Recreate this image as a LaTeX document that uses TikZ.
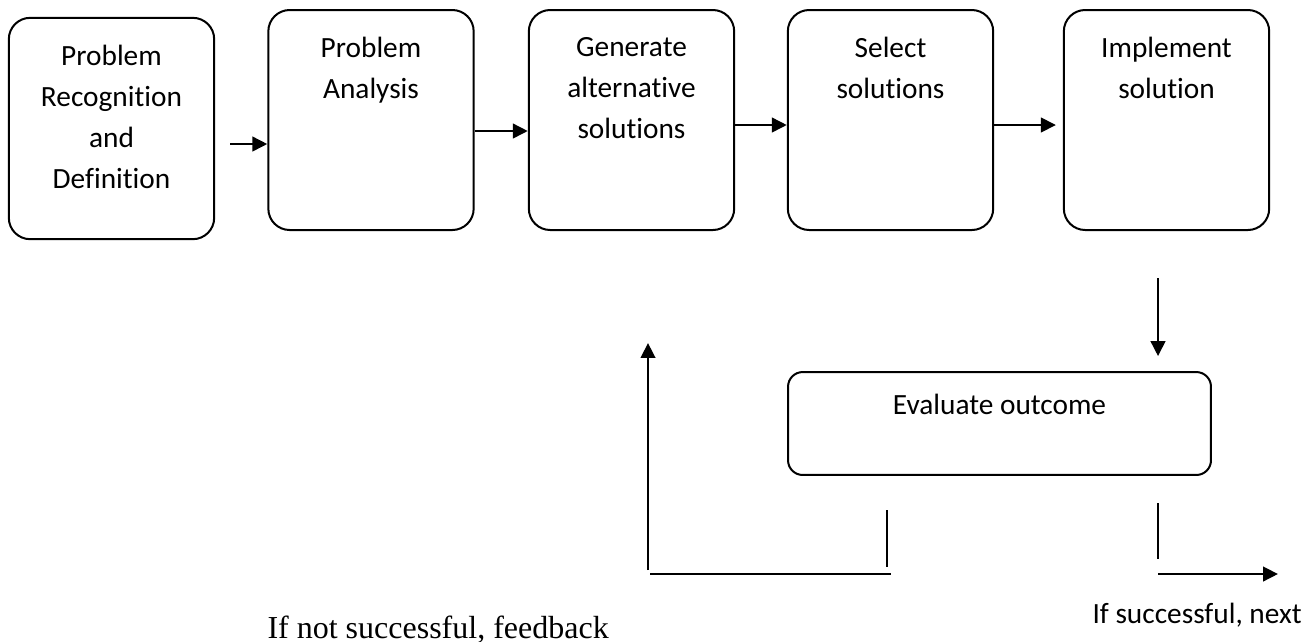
\documentclass[tikz,border=0pt]{standalone}
\usepackage{fontspec}
\setmainfont{Carlito}[Ligatures={NoCommon}]
\newfontfamily\serifnote{Liberation Serif}
\usetikzlibrary{arrows.meta, calc}

\tikzset{
    stage/.style={draw, line width=0.75pt, rounded corners=8pt, minimum width=77pt, minimum height=82.5pt},
    boxtext/.style={anchor=north, yshift=#1, inner sep=0pt, align=center, font=\fontsize{11}{15.4}\selectfont},
    boxtext/.default=-10.4pt,
    flow/.style={line width=1.05pt, -{Triangle[length=5.6pt, width=5.4pt]}},
    plain/.style={line width=0.75pt}
}

\begin{document}
\begin{tikzpicture}[x=0.375pt, y=-0.375pt]
    \useasboundingbox (0,0) rectangle (1307,641);

    \node[stage, minimum height=83pt, label={[boxtext]north:Problem\\Recognition\\and\\Definition}] (recog) at (111.5,128.5) {};
    \node[stage, label={[boxtext]north:Problem\\Analysis}] (analysis) at (371,120) {};
    \node[stage, label={[boxtext]north:Generate\\alternative\\solutions}] (generate) at (631.5,120) {};
    \node[stage, label={[boxtext]north:Select\\solutions}] (select) at (890.5,120) {};
    \node[stage, label={[boxtext]north:Implement\\solution}] (implement) at (1166.5,120) {};
    \node[stage, rounded corners=5.5pt, minimum width=158.6pt, minimum height=38.6pt,
          label={[boxtext=-8.6pt]north:Evaluate outcome}] (evaluate) at (999.5,423.5) {};

    \draw[flow, shorten <=5.6pt] (recog.east |- 0,144) -- (analysis.west |- 0,144);
    \draw[flow] (analysis.east |- 0,131) -- (generate.west |- 0,131);
    \draw[flow] (generate.east |- 0,125) -- (select.west |- 0,125);
    \draw[flow, shorten >=2.6pt] (select.east |- 0,125) -- (implement.west |- 0,125);

    \coordinate (down) at (1158,278);
    \draw[flow, shorten >=5.6pt] (down) -- (down |- evaluate.north);

    \coordinate (fbstart) at (887,510);
    \coordinate (fbend) at (887,567);
    \coordinate (fbleft) at (650,574);
    \coordinate (fbright) at (891,574);
    \coordinate (fbfoot) at (648,570);
    \coordinate (fbtop) at (648,343);
    \draw[plain] (fbstart) -- (fbend);
    \draw[plain] (fbleft) -- (fbright);
    \draw[flow] (fbfoot) -- (fbtop);

    \coordinate (okstart) at (1158,503);
    \coordinate (okend) at (1158,559);
    \coordinate (okfoot) at (1158,574);
    \coordinate (oknext) at (1278,574);
    \draw[line width=0.6pt] (okstart) -- (okend);
    \draw[flow] (okfoot) -- (oknext);

    \node[anchor=base west, inner sep=0pt, font=\serifnote\fontsize{12}{14}\selectfont] (fail) at (267,638) {If not successful, feedback};
    \node[anchor=base west, inner sep=0pt, font=\fontsize{11}{13}\selectfont] (pass) at (1092,623) {If successful, next};
\end{tikzpicture}
\end{document}
